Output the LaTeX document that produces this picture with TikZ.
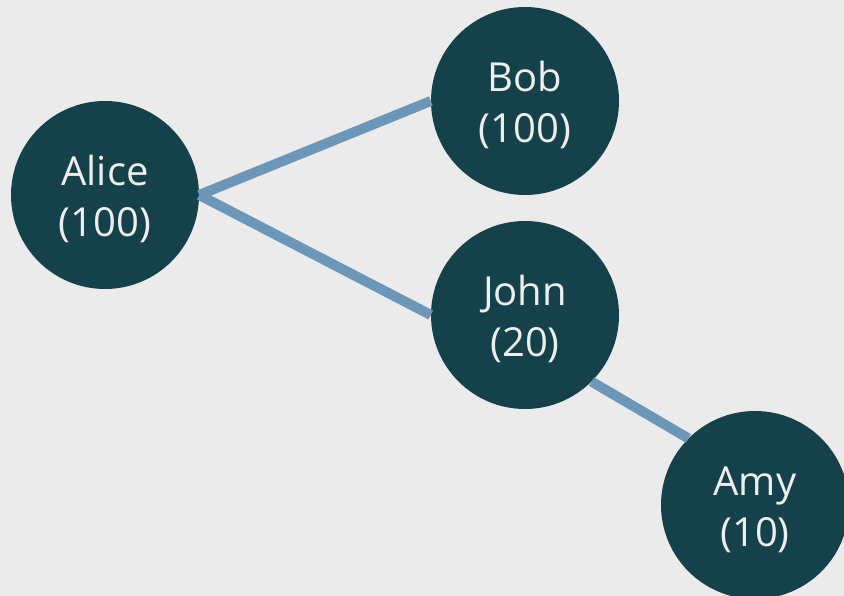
\documentclass[tikz,border=0pt]{standalone}
\usepackage{fontspec}
\setmainfont{Open Sans}
\definecolor{hintergrund}{HTML}{EBEBEB}
\definecolor{knotenfarbe}{HTML}{14414A}
\definecolor{kantenfarbe}{HTML}{6C97B9}
\definecolor{schrift}{HTML}{EEEEEE}
\begin{document}
\begin{tikzpicture}[x=1pt,y=-1pt,
    person/.style={circle, fill=knotenfarbe, minimum size=188pt, inner sep=0pt,
        text=schrift, align=center, font=\fontsize{40}{51}\selectfont,
        text height=90pt},
    kante/.style={draw=kantenfarbe, line width=10pt}]
    % beschränkt das gesamte Bild auf das angegebene Rechteck:
    \clip (0,0) rectangle (844,596);
    \fill [hintergrund] (0,0) rectangle (844,596);
    % Die vier Personen als Kreise:
    \node [person] (alice) at (105,195) {Alice\\(100)};
    \node [person] (bob) at (525,101) {Bob\\(100)};
    \node [person] (john) at (525,315) {John\\(20)};
    \node [person] (amy) at (755,505) {Amy\\(10)};
    % Die Kanten, jeweils von Rand zu Rand:
    \draw [kante] (alice.east) -- (bob.west);
    \draw [kante] (alice.east) -- (john.west);
    \draw [kante] (john.south east) -- (amy.north west);
\end{tikzpicture}
\end{document}
